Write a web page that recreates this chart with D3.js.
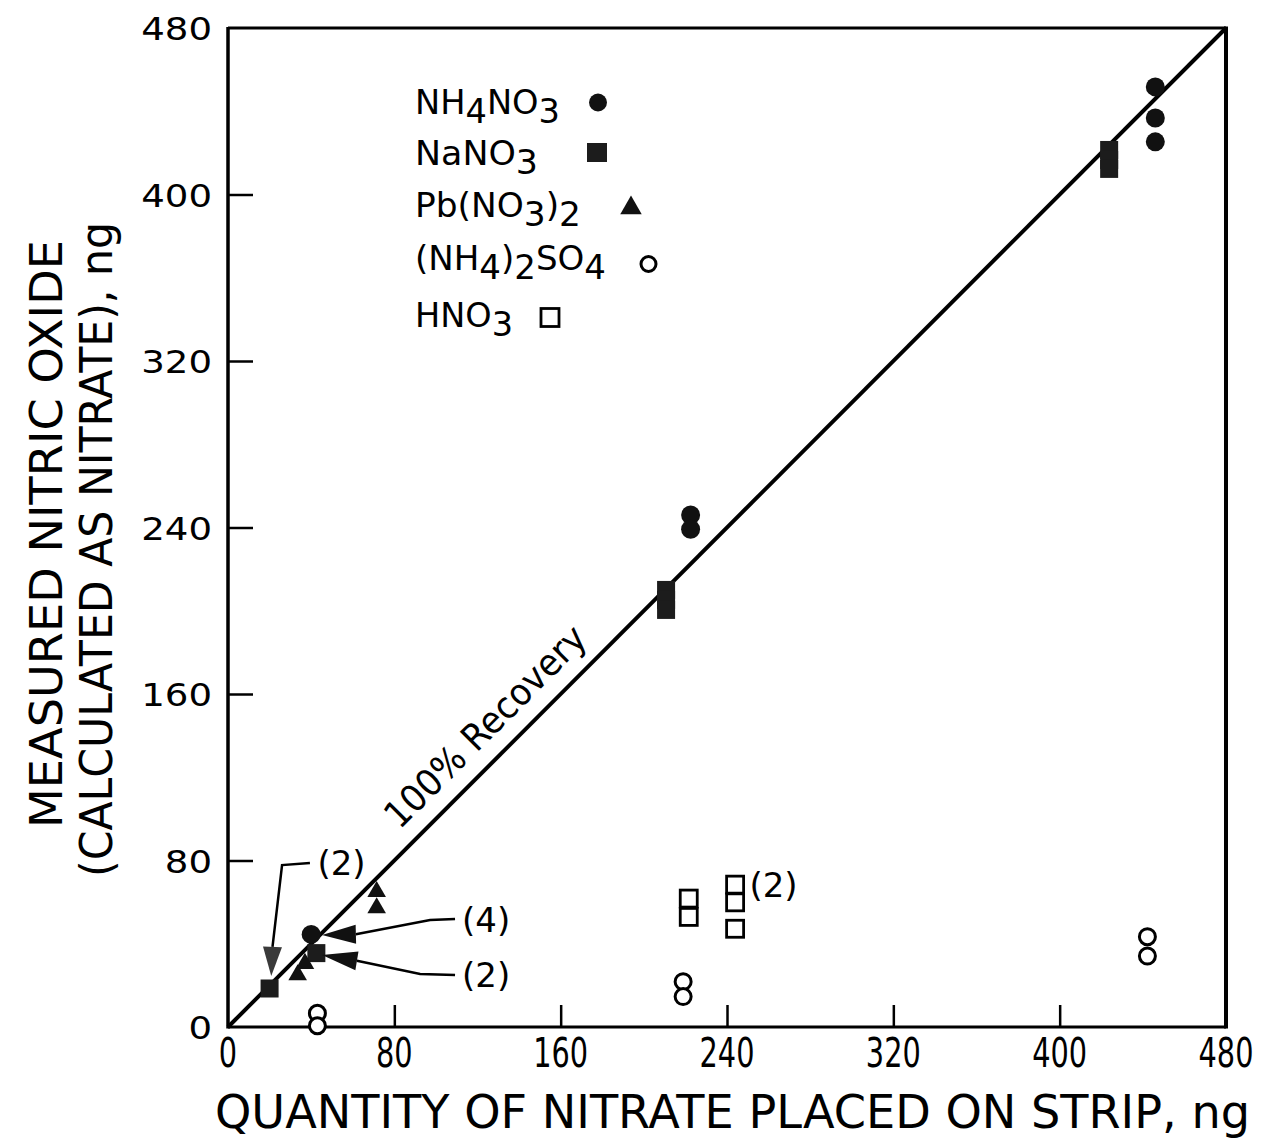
<!DOCTYPE html>
<html>
<head>
<meta charset="utf-8">
<script src="https://cdn.jsdelivr.net/npm/d3@7"></script>
<style>
  html, body { margin: 0; padding: 0; background: #fff; }
  svg { display: block; }
  text { font-family: "DejaVu Sans", sans-serif; fill: #000; }
</style>
</head>
<body>
<svg id="chart" width="1267" height="1146"></svg>
<script>
// ---------------- data (ng) ----------------
const xTicks = [0, 80, 160, 240, 320, 400, 480];
const yTicks = [0, 80, 160, 240, 320, 400, 480];

// [quantity placed, measured]
const nh4no3 = [[40, 44.5], [222.5, 246], [222.5, 239.2], [446, 451.7], [446, 436.8], [446, 425.3]];
const nano3  = [[20, 18.5], [42.5, 35.5], [210.7, 210], [210.7, 205.2], [210.7, 200.4],
                [423.8, 421.4], [423.8, 416.6], [423.8, 412.3]];
const pbno32 = [[33.5, 25], [37, 30.5], [71.5, 65], [71.5, 57.2]];
const nh42so4 = [[43, 6.6], [43, 0.6], [218.9, 21.8], [218.9, 14.6], [442.2, 43.4], [442.2, 34.1]];
const hno3   = [[221.6, 61.7], [221.6, 52.9], [243.9, 68.4], [243.9, 59.9], [243.9, 47.2]];

const legendLabels = [
  [["NH", 0], ["4", 1], ["NO", 0], ["3", 1]],
  [["NaNO", 0], ["3", 1]],
  [["Pb(NO", 0], ["3", 1], [")", 0], ["2", 1]],
  [["(NH", 0], ["4", 1], [")", 0], ["2", 1], ["SO", 0], ["4", 1]],
  [["HNO", 0], ["3", 1]]
];

// annotation leaders, in data units
const annotations = [
  { label: "(4)", at: [112.6, 51.4], path: [[109.2, 51.9], [97.2, 51.4], [61.5, 44.6]], tip: [45.2, 44.2], dir: "h" },
  { label: "(2)", at: [112.6, 25], path: [[109.2, 25], [92.4, 25.5], [62, 31.8]], tip: [45.2, 34.6], dir: "h" },
  { label: "(2)", at: [43, 78.8], path: [[39.4, 78.8], [26, 77.8], [21.4, 38.5]], tip: [20.8, 24.5], dir: "v" },
  { label: "(2)", at: [250.8, 68.3], path: [], tip: null }
];

// ---------------- layout ----------------
const svg = d3.select("#chart");
const L = 228, R = 1226, T = 28, B = 1027;
const x = d3.scaleLinear().domain([0, 480]).range([L, R]);
const y = d3.scaleLinear().domain([0, 480]).range([B, T]);

// axes with inward ticks
const gx = svg.append("g").attr("transform", `translate(0,${B})`)
  .call(d3.axisBottom(x).tickValues(xTicks.slice(1, -1)).tickSize(-22).tickFormat(""));
const gy = svg.append("g").attr("transform", `translate(${L},0)`)
  .call(d3.axisLeft(y).tickValues(yTicks.slice(1, -1)).tickSize(-25).tickFormat(""));
[gx, gy].forEach(g => {
  g.select(".domain").remove();
  g.selectAll(".tick line").attr("stroke", "#000").attr("stroke-width", 2.5);
});

// tick labels
svg.append("g").selectAll("text").data(xTicks).join("text")
  .attr("transform", d => `translate(${x(d)},${B + 40}) scale(0.72,1)`)
  .attr("text-anchor", "middle")
  .attr("font-size", 40)
  .text(d => d);
svg.append("g").selectAll("text").data(yTicks).join("text")
  .attr("transform", d => `translate(${L - 16},${y(d) + 12}) scale(1.16,1)`)
  .attr("text-anchor", "end")
  .attr("font-size", 32)
  .text(d => d);

// frame
svg.append("line").attr("x1", L).attr("x2", L).attr("y1", T - 1).attr("y2", B + 1.5).attr("stroke", "#000").attr("stroke-width", 3.5);
svg.append("line").attr("x1", L).attr("x2", R).attr("y1", B).attr("y2", B).attr("stroke", "#000").attr("stroke-width", 3);
svg.append("line").attr("x1", L).attr("x2", R).attr("y1", T).attr("y2", T).attr("stroke", "#000").attr("stroke-width", 3);
svg.append("line").attr("x1", R).attr("x2", R).attr("y1", T - 1.5).attr("y2", B + 1.5).attr("stroke", "#000").attr("stroke-width", 4);

// 100% recovery line
svg.append("line")
  .attr("x1", x(0)).attr("y1", y(0)).attr("x2", x(480)).attr("y2", y(480))
  .attr("stroke", "#000").attr("stroke-width", 4);
const ang = Math.atan2(y(480) - y(0), x(480) - x(0)) * 180 / Math.PI;
svg.append("text")
  .attr("transform", `translate(${x(82.5)},${y(94.5)}) rotate(${ang})`)
  .attr("font-size", 37)
  .attr("textLength", 268).attr("lengthAdjust", "spacingAndGlyphs")
  .text("100% Recovery");

// ---------------- markers ----------------
const dark = "#111";
const gm = svg.append("g");
gm.selectAll(".nh4no3").data(nh4no3).join("circle")
  .attr("cx", d => x(d[0])).attr("cy", d => y(d[1])).attr("r", 9.5).attr("fill", dark);
gm.selectAll(".nano3").data(nano3).join("rect")
  .attr("x", d => x(d[0]) - 9).attr("y", d => y(d[1]) - 9).attr("width", 18).attr("height", 18).attr("fill", "#1c1c1c");
gm.selectAll(".pb").data(pbno32).join("path")
  .attr("transform", d => `translate(${x(d[0])},${y(d[1])})`)
  .attr("d", d3.symbol(d3.symbolTriangle, 150)()).attr("fill", dark);
gm.selectAll(".so4").data(nh42so4).join("circle")
  .attr("cx", d => x(d[0])).attr("cy", d => y(d[1])).attr("r", 8)
  .attr("fill", "#fff").attr("stroke", "#000").attr("stroke-width", 3);
gm.selectAll(".hno3").data(hno3).join("rect")
  .attr("x", d => x(d[0]) - 8.5).attr("y", d => y(d[1]) - 8.5).attr("width", 17).attr("height", 17)
  .attr("fill", "none").attr("stroke", "#000").attr("stroke-width", 2.8);

// ---------------- annotations ----------------
const ga = svg.append("g");
const line = d3.line().x(d => x(d[0])).y(d => y(d[1]));
annotations.forEach(a => {
  ga.append("text")
    .attr("x", x(a.at[0])).attr("y", y(a.at[1]) + 12)
    .attr("font-size", 34)
    .text(a.label);
  if (a.path.length) {
    ga.append("path").attr("d", line(a.path)).attr("fill", "none").attr("stroke", "#000").attr("stroke-width", 2.5);
    const last = a.path[a.path.length - 1];
    const bx = x(last[0]), by = y(last[1]);
    const tx = x(a.tip[0]), ty = y(a.tip[1]);
    const dx = tx - bx, dy = ty - by, len = Math.hypot(dx, dy);
    const nx = -dy / len * 9.5, ny = dx / len * 9.5;
    ga.append("path")
      .attr("d", `M${tx},${ty}L${bx + nx},${by + ny}L${bx - nx},${by - ny}Z`)
      .attr("fill", a.dir === "v" ? "#3a3a3a" : dark);
  }
});

// ---------------- legend ----------------
const legendRows = [
  { baseline: 114, len: 145, mark: "fcircle", mx: 598, my: 102.5 },
  { baseline: 165, len: 123, mark: "fsquare", mx: 597, my: 152.5 },
  { baseline: 217, len: 166, mark: "ftri", mx: 631, my: 208 },
  { baseline: 270, len: 191, mark: "ocircle", mx: 648.5, my: 264 },
  { baseline: 327, len: 98, mark: "osquare", mx: 550, my: 317.5 }
];
const gl = svg.append("g");
legendRows.forEach((r, i) => {
  const t = gl.append("text").attr("x", 415).attr("y", r.baseline)
    .attr("font-size", 33)
    .attr("textLength", r.len).attr("lengthAdjust", "spacingAndGlyphs");
  let shifted = 0;
  legendLabels[i].forEach(([s, sub]) => {
    const dy = sub ? (shifted ? 0 : 9) : (shifted ? -9 : 0);
    shifted = sub;
    t.append("tspan").attr("dy", dy).text(s);
  });
  if (r.mark === "fcircle") gl.append("circle").attr("cx", r.mx).attr("cy", r.my).attr("r", 9).attr("fill", dark);
  if (r.mark === "fsquare") gl.append("rect").attr("x", r.mx - 10).attr("y", r.my - 9.5).attr("width", 20).attr("height", 19).attr("fill", "#1c1c1c");
  if (r.mark === "ftri") gl.append("path").attr("transform", `translate(${r.mx},${r.my})`).attr("d", d3.symbol(d3.symbolTriangle, 200)()).attr("fill", dark);
  if (r.mark === "ocircle") gl.append("circle").attr("cx", r.mx).attr("cy", r.my).attr("r", 7.5).attr("fill", "none").attr("stroke", "#000").attr("stroke-width", 3);
  if (r.mark === "osquare") gl.append("rect").attr("x", r.mx - 9).attr("y", r.my - 9).attr("width", 18).attr("height", 18).attr("fill", "none").attr("stroke", "#000").attr("stroke-width", 2.8);
});

// ---------------- axis titles ----------------
svg.append("text")
  .attr("x", 215).attr("y", 1128)
  .attr("font-size", 46)
  .attr("textLength", 1035).attr("lengthAdjust", "spacingAndGlyphs")
  .text("QUANTITY OF NITRATE PLACED ON STRIP, ng");
svg.append("text")
  .attr("transform", "translate(62,828) rotate(-90)")
  .attr("font-size", 44)
  .attr("textLength", 588).attr("lengthAdjust", "spacingAndGlyphs")
  .text("MEASURED NITRIC OXIDE");
svg.append("text")
  .attr("transform", "translate(112,877) rotate(-90)")
  .attr("font-size", 44)
  .attr("textLength", 655).attr("lengthAdjust", "spacingAndGlyphs")
  .text("(CALCULATED AS NITRATE), ng");
</script>
</body>
</html>
